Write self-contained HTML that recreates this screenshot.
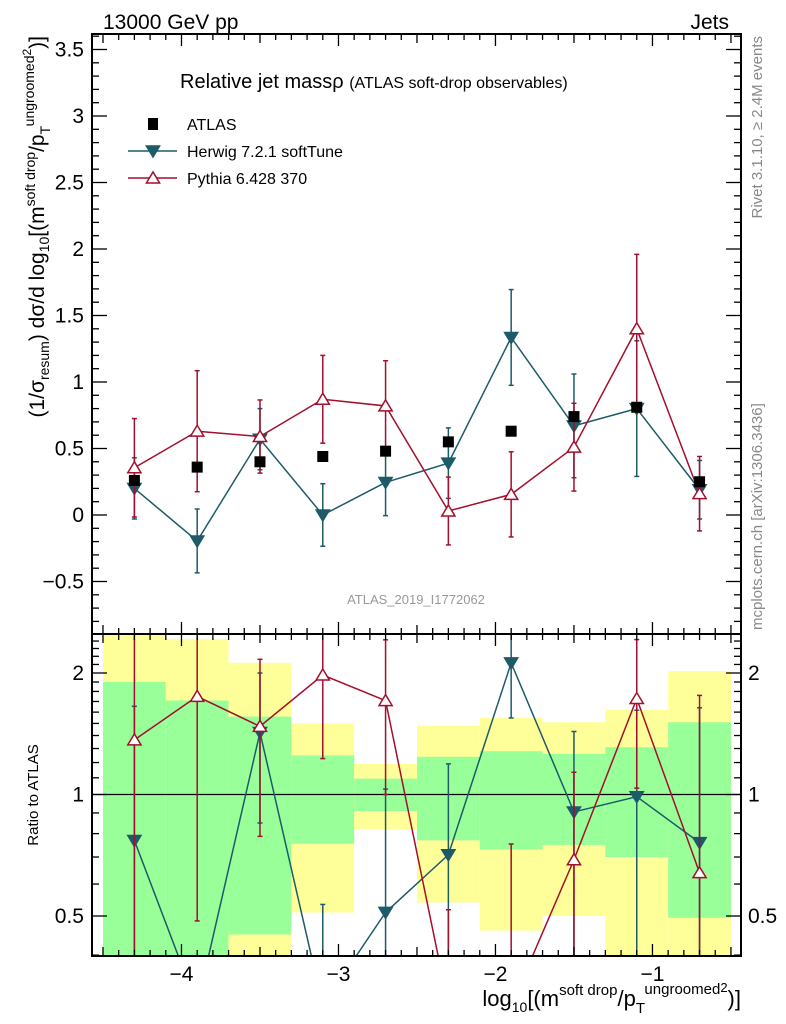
<!DOCTYPE html>
<html><head><meta charset="utf-8">
<style>
html,body{margin:0;padding:0;background:#fff;width:786px;height:1024px;overflow:hidden;}
svg{display:block;font-family:"Liberation Sans",Arial,sans-serif;}
</style></head>
<body>
<svg id="chart" width="786" height="1024" viewBox="0 0 786 1024" xmlns="http://www.w3.org/2000/svg">
<text x="103" y="29" font-size="21">13000 GeV pp</text>
<text x="729" y="29" font-size="21" text-anchor="end">Jets</text>
<text x="180" y="88" font-size="20">Relative jet mass&#961; <tspan font-size="16">(ATLAS soft-drop observables)</tspan></text>
<text transform="translate(762,36) rotate(-90)" font-size="15" fill="#888" text-anchor="end">Rivet 3.1.10, &#8805; 2.4M events</text>
<text transform="translate(762,630) rotate(-90)" font-size="15" fill="#888" text-anchor="start">mcplots.cern.ch [arXiv:1306.3436]</text>
<text x="416" y="604" font-size="13" fill="#999" text-anchor="middle">ATLAS_2019_I1772062</text>
<text transform="translate(44,36) rotate(-90)" font-size="21" text-anchor="end">(1/&#963;<tspan font-size="14" dy="5">resum</tspan><tspan dy="-5">) d&#963;/d log</tspan><tspan font-size="14" dy="5">10</tspan><tspan dy="-5">[(m</tspan><tspan font-size="14" dy="-9">soft drop</tspan><tspan dy="9">/p</tspan><tspan font-size="14" dy="6">T</tspan><tspan font-size="14" dy="-16">ungroomed</tspan><tspan font-size="12" dy="-3">2</tspan><tspan dy="13">)]</tspan></text>
<text transform="translate(38,795) rotate(-90)" font-size="15" text-anchor="middle">Ratio to ATLAS</text>
<text x="741" y="1006" font-size="22" text-anchor="end">log<tspan font-size="14" dy="6">10</tspan><tspan dy="-6">[(m</tspan><tspan font-size="15" dy="-11">soft drop</tspan><tspan dy="11">/p</tspan><tspan font-size="15" dy="7">T</tspan><tspan font-size="15" dy="-19">ungroomed</tspan><tspan font-size="13" dy="-2">2</tspan><tspan dy="14">)]</tspan></text>
<g id="layer"></g>
</svg>
<script>
const categories = [-4.3,-3.9,-3.5,-3.1,-2.7,-2.3,-1.9,-1.5,-1.1,-0.7];
const atlasVals = [0.26,0.36,0.40,0.44,0.48,0.55,0.63,0.74,0.81,0.25];
const herwigVals = [0.20,-0.195,0.57,0.0,0.245,0.39,1.335,0.67,0.80,0.19];
const herwigErr = [0.23,0.24,0.23,0.235,0.25,0.265,0.36,0.39,0.51,0.22];
const pythiaVals = [0.355,0.63,0.59,0.87,0.82,0.03,0.155,0.51,1.40,0.16];
const pythiaErr = [0.37,0.455,0.275,0.33,0.34,0.255,0.32,0.33,0.56,0.28];
const binEdges = [-4.5,-4.1,-3.7,-3.3,-2.9,-2.5,-2.1,-1.7,-1.3,-0.9,-0.5];
const greenHi = [1.90,1.71,1.56,1.25,1.095,1.24,1.28,1.26,1.31,1.51];
const greenLo = [0.3,0.3,0.45,0.755,0.91,0.77,0.73,0.75,0.70,0.495];
const yellowHi = [2.6,2.43,2.12,1.50,1.19,1.48,1.55,1.51,1.62,2.02];
const yellowLo = [0.3,0.3,0.3,0.51,0.82,0.54,0.46,0.50,0.3,0.3];
const mainTicks = [-0.5,0,0.5,1,1.5,2,2.5,3,3.5];
const mainTickLabels = ["\u22120.5","0","0.5","1","1.5","2","2.5","3","3.5"];
const xTicks = [-4,-3,-2,-1];
const xTickLabels = ["\u22124","\u22123","\u22122","\u22121"];
const ratioTicks = [0.5,1,2];
const ratioTickLabels = ["0.5","1","2"];

const L=92,R=741,T=34,MB=634,RB=956;
const X0=-4.57,X1=-0.436;
const sx=v=>L+(v-X0)/(X1-X0)*(R-L);
const sy=v=>515-v*133;
const ry=v=>{const y=794.5-Math.log2(Math.max(v,0.01))*121.5;return Math.max(MB,Math.min(RB,y));};
const ryRaw=v=>794.5-Math.log2(Math.max(v,0.3))*121.5;
const NS="http://www.w3.org/2000/svg";
const layer=document.getElementById('layer');
function mk(tag,attrs,parent){const e=document.createElementNS(NS,tag);for(const k in attrs)e.setAttribute(k,attrs[k]);(parent||layer).appendChild(e);return e;}
const HC="#1d5b69", PC="#a30f2d";

const bandG=mk('g',{});


for(let i=0;i<categories.length;i++){
  const x0=sx(binEdges[i]),x1=sx(binEdges[i+1]);
  const yb=mk('rect',{x:x0,y:ry(yellowHi[i]),width:x1-x0,height:ry(yellowLo[i])-ry(yellowHi[i]),fill:"#ffff99"},bandG);
  
  
  const gb=mk('rect',{x:x0,y:ry(greenHi[i]),width:x1-x0,height:ry(greenLo[i])-ry(greenHi[i]),fill:"#99ff99"},bandG);
  
  
}
const one=mk('line',{x1:L,x2:R,y1:ry(1),y2:ry(1),stroke:"#000","stroke-width":1.3});



const defs=mk('defs',{});
const cp=mk('clipPath',{id:'rclip'},defs);mk('rect',{x:L,y:MB,width:R-L,height:RB-MB},cp);
const cm=mk('clipPath',{id:'mclip'},defs);mk('rect',{x:L,y:T,width:R-L,height:MB-T},cm);

function tri(x,y,down,s){
  const h=s, w=s*0.6;
  return down?`${x-w},${y-h*0.45} ${x+w},${y-h*0.45} ${x},${y+h*0.55}`:`${x-w},${y+h*0.45} ${x+w},${y+h*0.45} ${x},${y-h*0.55}`;
}
function series(vals,errs,col,down,filled,name,scaleY,errY,clipId,ratio){
  const g=mk('g',{'clip-path':`url(#${clipId})`});
  
  
  const pts=[];
  for(let i=0;i<vals.length;i++){
    let v=vals[i],e=errs[i];
    if(ratio){e=e/atlasVals[i];v=v/atlasVals[i];}
    const x=sx(categories[i]);
    const yv=scaleY(v), yh=errY(v+e), yl=errY(v-e);
    pts.push(`${x},${yv}`);
    const eb=mk('line',{x1:x,x2:x,y1:yh,y2:yl,stroke:col,"stroke-width":1.5},g);
    
    
    mk('line',{x1:x-2.5,x2:x+2.5,y1:yh,y2:yh,stroke:col,"stroke-width":1.5},g);
    mk('line',{x1:x-2.5,x2:x+2.5,y1:yl,y2:yl,stroke:col,"stroke-width":1.5},g);
  }
  const pl=mk('polyline',{points:pts.join(' '),fill:'none',stroke:col,"stroke-width":1.5},g);
  
  
  for(let i=0;i<vals.length;i++){
    let v=vals[i]; if(ratio)v=v/atlasVals[i];
    const m=mk('polygon',{points:tri(sx(categories[i]),scaleY(v),down,11),fill:filled?col:'#fff',stroke:col,"stroke-width":1.5},g);
    
    
  }
}
series(herwigVals,herwigErr,HC,true,true,'herwig-series',sy,sy,'mclip',false);
series(pythiaVals,pythiaErr,PC,false,false,'pythia-series',sy,sy,'mclip',false);
const ag=mk('g',{});


for(let i=0;i<atlasVals.length;i++){
  const r=mk('rect',{x:sx(categories[i])-5.5,y:sy(atlasVals[i])-5.5,width:11,height:11,fill:'#000'},ag);
  
  
}
series(herwigVals,herwigErr,HC,true,true,'herwig-ratio-series',ryRaw,ry,'rclip',true);
series(pythiaVals,pythiaErr,PC,false,false,'pythia-ratio-series',ryRaw,ry,'rclip',true);

const f1=mk('rect',{x:L,y:T,width:R-L,height:MB-T,fill:'none',stroke:'#000','stroke-width':2});


const f2=mk('rect',{x:L,y:MB,width:R-L,height:RB-MB,fill:'none',stroke:'#000','stroke-width':2});



for(let k=-45;k<=-5;k++){
  const v=k/10;const x=sx(v);
  const len=(k%10===0)?12:(k%5===0?9:6);
  [[T,1],[MB,-1],[MB,1],[RB,-1]].forEach(([y0,d])=>mk('line',{x1:x,x2:x,y1:y0,y2:y0+d*len,stroke:'#000','stroke-width':1.3}));
}
xTicks.forEach((v,i)=>{
  const t=mk('text',{x:sx(v),y:981,'font-size':21,'text-anchor':'middle'});t.textContent=xTickLabels[i];
  
  
});
for(let k=-9;k<=36;k++){
  const v=k/10,y=sy(v);if(y<T||y>MB)continue;
  const len=(k%5===0)?15:7;
  mk('line',{x1:L,x2:L+len,y1:y,y2:y,stroke:'#000','stroke-width':1.3});
  mk('line',{x1:R,x2:R-len,y1:y,y2:y,stroke:'#000','stroke-width':1.3});
}
mainTicks.forEach((v,i)=>{
  const t=mk('text',{x:84,y:sy(v)+7,'font-size':21,'text-anchor':'end'});t.textContent=mainTickLabels[i];
  
  
});
[0.4,0.5,0.6,0.7,0.8,0.9,1,1.1,1.2,1.3,1.4,1.5,1.6,1.7,1.8,1.9,2,2.1,2.2,2.3,2.4,2.5].forEach(v=>{
  const y=ry(v);const len=(v===0.5||v===1||v===2)?15:7;
  mk('line',{x1:L,x2:L+len,y1:y,y2:y,stroke:'#000','stroke-width':1.3});
  mk('line',{x1:R,x2:R-len,y1:y,y2:y,stroke:'#000','stroke-width':1.3});
});
ratioTicks.forEach((v,i)=>{
  const t=mk('text',{x:84,y:ry(v)+7,'font-size':21,'text-anchor':'end'});t.textContent=ratioTickLabels[i];
  
  
  const t2=mk('text',{x:748,y:ry(v)+7,'font-size':21,'text-anchor':'start'});t2.textContent=ratioTickLabels[i];
  
  
});
const lg=mk('g',{});


const legendItems=[["ATLAS",'#000','sq'],["Herwig 7.2.1 softTune",HC,'down'],["Pythia 6.428 370",PC,'up']];
legendItems.forEach(([lab,col,kind],i)=>{
  const y=124+i*27;
  const e=mk('g',{},lg);
  
  
  if(kind==='sq'){mk('rect',{x:148,y:y-6,width:10,height:12,fill:'#000'},e);}
  else{
    mk('line',{x1:128,x2:177,y1:y,y2:y,stroke:col,'stroke-width':1.5},e);
    mk('polygon',{points:tri(153,y,kind==='down',11),fill:kind==='down'?col:'#fff',stroke:col,'stroke-width':1.5},e);
  }
  const t=mk('text',{x:187,y:y+6,'font-size':16},e);t.textContent=lab;
});
</script>
</body></html>
